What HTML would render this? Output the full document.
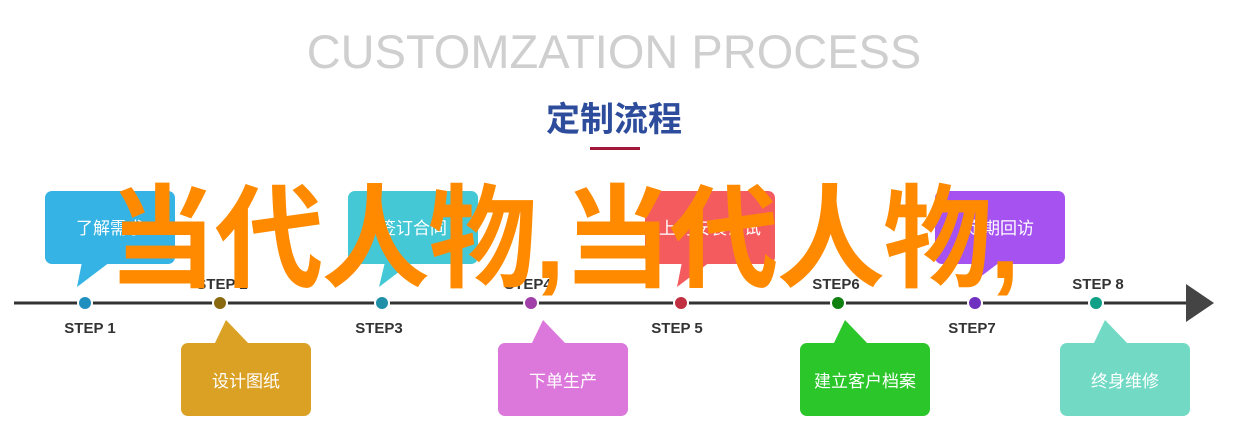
<!DOCTYPE html>
<html><head><meta charset="utf-8"><style>
body{margin:0;width:1246px;height:442px;background:#fff;position:relative;overflow:hidden;font-family:"Liberation Sans","Noto Sans CJK SC",sans-serif}
.a{position:absolute}
.t1{left:0;width:1228px;text-align:center;top:24px;font-size:47px;color:#cfcfcf;letter-spacing:0px}
.t2{left:0;width:1228px;text-align:center;top:92px;font-size:34px;font-weight:bold;color:#2d4c9c}
.ov{left:108px;top:184px;font-size:112px;font-weight:bold;color:#ff8a00;white-space:nowrap;line-height:1;letter-spacing:-2px;transform:scaleX(0.97);transform-origin:0 0}
</style></head><body>
<div class="a t1">CUSTOMZATION PROCESS</div>
<div class="a t2">定制流程</div>
<div class="a" style="left:590px;top:147px;width:50px;height:3px;background:#a3173a"></div>
<svg class="a" style="left:0;top:0" width="1246" height="442">
<g font-family="Liberation Sans, Noto Sans CJK SC, sans-serif">
<rect x="45" y="191" width="130" height="73" rx="7" fill="#35b3e4"/><polygon points="82,262 110,262 77,287" fill="#35b3e4"/>
<rect x="348" y="191" width="130" height="73" rx="7" fill="#45c8d6"/><polygon points="385,262 412,262 379,287" fill="#45c8d6"/>
<rect x="645" y="191" width="130" height="73" rx="7" fill="#f45b5f"/><polygon points="682,262 710,262 677,287" fill="#f45b5f"/>
<rect x="935" y="191" width="130" height="73" rx="7" fill="#a552f0"/><polygon points="972,262 1000,262 967,287" fill="#a552f0"/>
<g fill="#fff" font-size="17" text-anchor="middle">
<text x="110" y="234">了解需求</text><text x="413" y="234">签订合同</text><text x="710" y="234">上门安装调试</text><text x="1000" y="234">定期回访</text>
</g>
<rect x="181" y="343" width="130" height="73" rx="7" fill="#dba125"/><polygon points="226,320 250,345 214,345" fill="#dba125"/>
<rect x="498" y="343" width="130" height="73" rx="7" fill="#dc78dc"/><polygon points="543,320 567,345 531,345" fill="#dc78dc"/>
<rect x="800" y="343" width="130" height="73" rx="7" fill="#2ac62a"/><polygon points="845,320 869,345 833,345" fill="#2ac62a"/>
<rect x="1060" y="343" width="130" height="73" rx="7" fill="#72dac4"/><polygon points="1105,320 1129,345 1093,345" fill="#72dac4"/>
<g fill="#fff" font-size="17" text-anchor="middle">
<text x="246" y="387">设计图纸</text><text x="563" y="387">下单生产</text><text x="865" y="387">建立客户档案</text><text x="1125" y="387">终身维修</text>
</g>
<line x1="14" y1="303" x2="1192" y2="303" stroke="#333" stroke-width="3"/>
<polygon points="1186,284 1214,303 1186,322" fill="#444"/>
<g stroke="#fff" stroke-width="2">
<circle cx="85" cy="303" r="7" fill="#1f8fc0"/><circle cx="220" cy="303" r="7" fill="#8a6a10"/>
<circle cx="382" cy="303" r="7" fill="#2090a8"/><circle cx="531" cy="303" r="7" fill="#a040a8"/>
<circle cx="681" cy="303" r="7" fill="#c03040"/><circle cx="838" cy="303" r="7" fill="#108010"/>
<circle cx="975" cy="303" r="7" fill="#7030c0"/><circle cx="1096" cy="303" r="7" fill="#10a088"/>
</g>
<g fill="#333" font-size="15" font-weight="bold" text-anchor="middle">
<text x="90" y="333">STEP 1</text><text x="222" y="289">STEP 2</text><text x="379" y="333">STEP3</text><text x="528" y="289">STEP4</text>
<text x="677" y="333">STEP 5</text><text x="836" y="289">STEP6</text><text x="972" y="333">STEP7</text><text x="1098" y="289">STEP 8</text>
</g>
</g>
</svg>
<div class="a ov">当代人物,当代人物,</div>
</body></html>
